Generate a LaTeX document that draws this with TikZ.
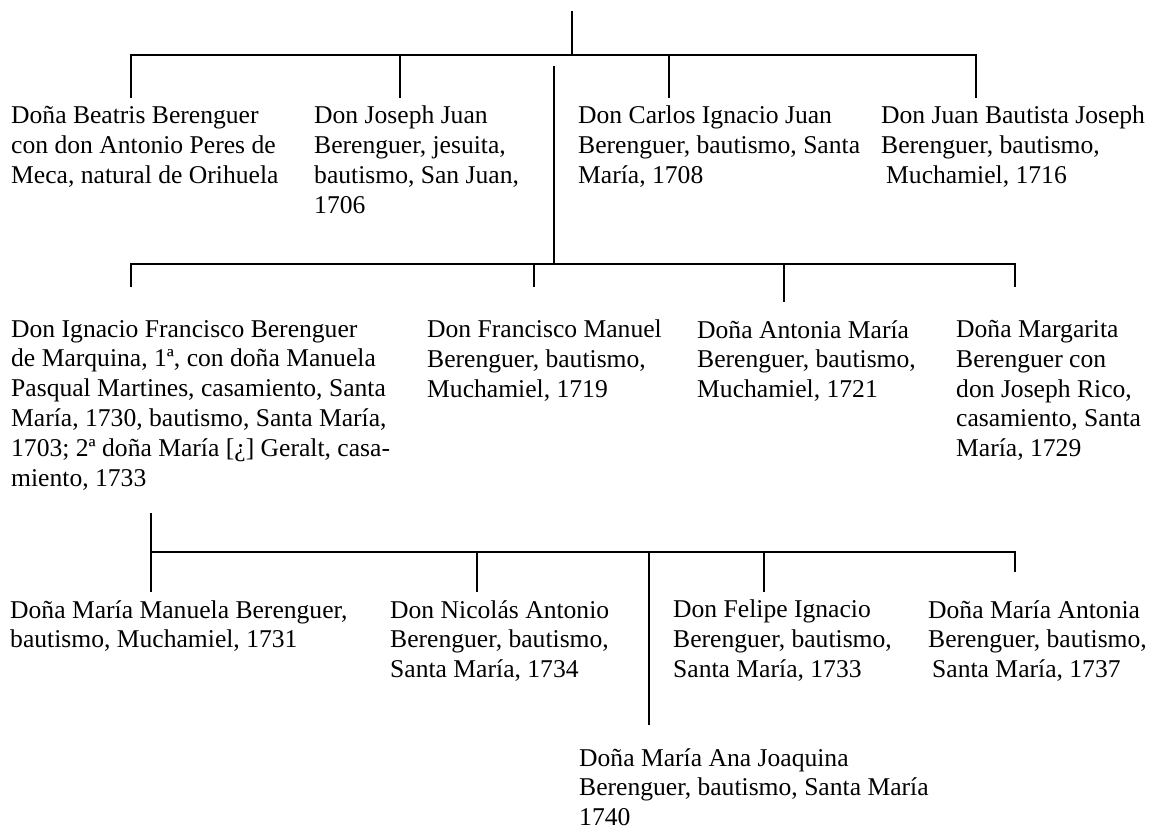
\documentclass[tikz,border=0pt]{standalone}
\usepackage{fontspec}
\setmainfont{Liberation Serif}
\begin{document}
\begin{tikzpicture}[x=1pt,y=-1pt,
  % each person is placed by the baseline of its first line
  person/.style={anchor=north west, yshift=20pt, align=left, inner sep=0pt,
    font=\fontsize{25.6}{29.8}\selectfont,
    execute at begin node={\rule{0pt}{20pt}}},
  link/.style={line width=2.7pt, line join=miter}]
\useasboundingbox (0,0) rectangle (1154,833);

% ---- people ----
\node[person] (beatris) at (11,126) {Doña Beatris Berenguer\\con don Antonio Peres de\\Meca, natural de Orihuela};
\node[person] (joseph) at (314,126) {Don Joseph Juan\\Berenguer, jesuita,\\bautismo, San Juan,\\1706};
\node[person] (carlos) at (578,126) {Don Carlos Ignacio Juan\\Berenguer, bautismo, Santa\\María, 1708};
\node[person] (juanb) at (881,126) {Don Juan Bautista Joseph\\Berenguer, bautismo,\\\hspace*{5pt}Muchamiel, 1716};

\node[person] (ignacio) at (11,340) {Don Ignacio Francisco Berenguer\\de Marquina, 1ª, con doña Manuela\\Pasqual Martines, casamiento, Santa\\María, 1730, bautismo, Santa María,\\1703; 2ª doña María [¿] Geralt, casa-\\miento, 1733};
\node[person] (francisco) at (427,340) {Don Francisco Manuel\\Berenguer, bautismo,\\Muchamiel, 1719};
\node[person] (antonia) at (697,340) {Doña Antonia María\\Berenguer, bautismo,\\Muchamiel, 1721};
\node[person] (margarita) at (956,340) {Doña Margarita\\Berenguer con\\don Joseph Rico,\\casamiento, Santa\\María, 1729};

\node[person] (manuela) at (10,620) {Doña María Manuela Berenguer,\\bautismo, Muchamiel, 1731};
\node[person] (nicolas) at (390,620) {Don Nicolás Antonio\\Berenguer, bautismo,\\Santa María, 1734};
\node[person] (felipe) at (673,620) {Don Felipe Ignacio\\Berenguer, bautismo,\\Santa María, 1733};
\node[person] (mantonia) at (928,620) {Doña María Antonia\\Berenguer, bautismo,\\\hspace*{4pt}Santa María, 1737};
\node[person] (joaquina) at (579,768) {Doña María Ana Joaquina\\Berenguer, bautismo, Santa María\\1740};

% ---- first generation ----
\coordinate (root) at (572,11);
\coordinate (r1) at (572,55);
\coordinate (b1l) at (131,55);  \coordinate (d1) at (131,98);
\coordinate (b1b) at (400,55);  \coordinate (d2) at (400,98);
\coordinate (b1c) at (669,55);  \coordinate (d3) at (669,98);
\coordinate (b1r) at (976,55);  \coordinate (d4) at (976,98);
\draw[link] (root) -- (r1);
\draw[link] (d1) -- (b1l) -- (b1r) -- (d4);
\draw[link] (b1b) -- (d2);
\draw[link] (b1c) -- (d3);

% ---- second generation ----
\coordinate (m1) at (554,66);
\coordinate (m2) at (554,264);
\coordinate (b2l) at (131,264);  \coordinate (e1) at (131,287);
\coordinate (b2b) at (534,264);  \coordinate (e2) at (534,287);
\coordinate (b2c) at (784,264);  \coordinate (e3) at (784,302);
\coordinate (b2r) at (1015,264); \coordinate (e4) at (1015,287);
\draw[link] (m1) -- (m2);
\draw[link] (e1) -- (b2l) -- (b2r) -- (e4);
\draw[link] (b2b) -- (e2);
\draw[link] (b2c) -- (e3);

% ---- third generation ----
\coordinate (g1) at (151,513);
\coordinate (b3l) at (151,552);  \coordinate (f1) at (151,592);
\coordinate (b3b) at (477,552);  \coordinate (f2) at (477,592);
\coordinate (b3m) at (649,552);  \coordinate (f5) at (649,725);
\coordinate (b3c) at (764,552);  \coordinate (f3) at (764,592);
\coordinate (b3r) at (1015,552); \coordinate (f4) at (1015,572);
\draw[link] (g1) -- (f1);
\draw[link] (b3l) -- (b3r) -- (f4);
\draw[link] (b3b) -- (f2);
\draw[link] (b3m) -- (f5);
\draw[link] (b3c) -- (f3);
\end{tikzpicture}
\end{document}
